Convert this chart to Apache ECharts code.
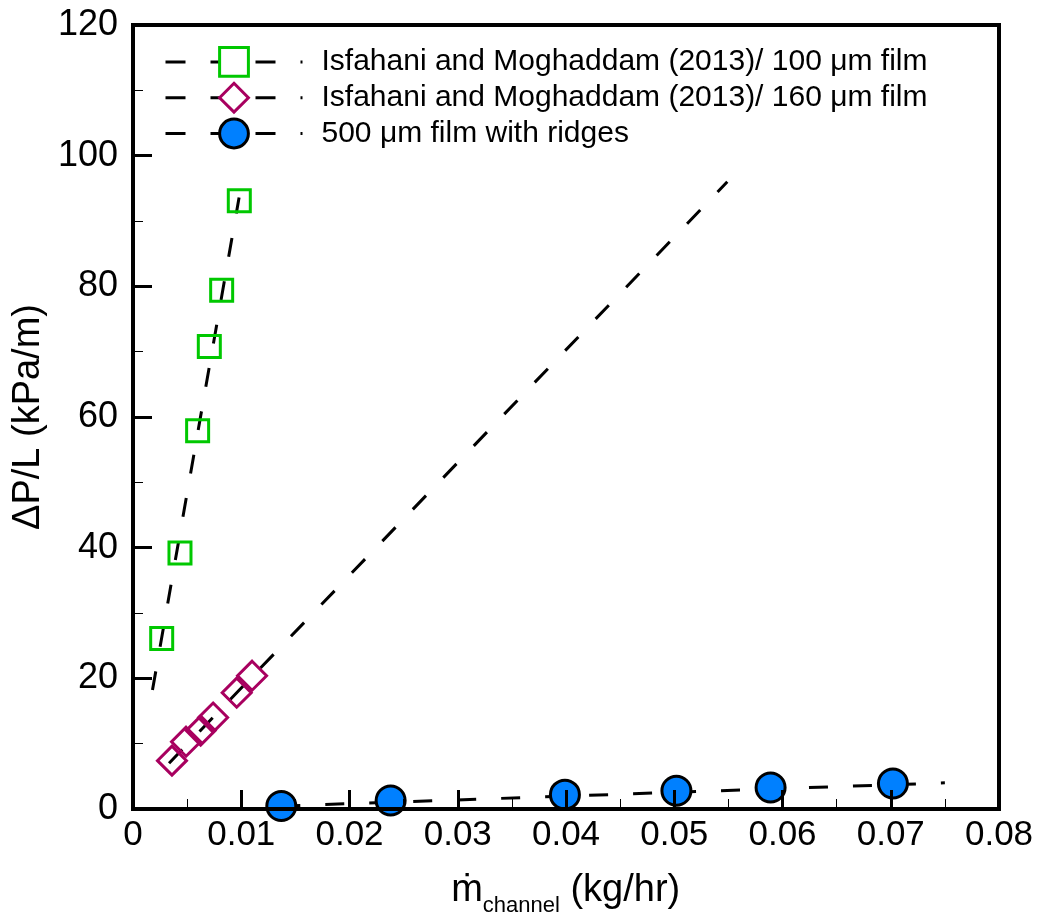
<!DOCTYPE html>
<html>
<head>
<meta charset="utf-8">
<script src="https://cdn.jsdelivr.net/npm/echarts@6/dist/echarts.min.js"></script>
<style>
html,body{margin:0;padding:0;background:#fff;}
#chart{width:1037px;height:916px;}
</style>
</head>
<body>
<div id="chart"></div>
<script>
// ---- data ----
const seriesNames = [
  'Isfahani and Moghaddam (2013)/ 100 \u03bcm film',
  'Isfahani and Moghaddam (2013)/ 160 \u03bcm film',
  '500 \u03bcm film with ridges'
];
const film100X = [0.00265, 0.00434, 0.00597, 0.00705, 0.00819, 0.00982];
const film100Y = [26.1, 39.2, 57.9, 70.8, 79.4, 93.1];
const film100FitX = [0.0018, 0.0098];
const film100FitY = [18.2, 93.6];

const film160X = [0.0036, 0.0049, 0.00625, 0.0074, 0.00958, 0.0110];
const film160Y = [7.4, 10.3, 12.0, 14.0, 17.8, 20.4];
const film160FitX = [0.00333, 0.0549];
const film160FitY = [7.0, 96.0];

const ridgesX = [0.0137, 0.0238, 0.0399, 0.0502, 0.0589, 0.0702];
const ridgesY = [0.45, 1.3, 2.2, 2.8, 3.3, 3.9];
const ridgesFitX = [0.0137, 0.0750];
const ridgesFitY = [0.45, 4.0];

const xMin = 0, xMax = 0.08, xStep = 0.01;
const yMin = 0, yMax = 120, yStep = 20;

// ---- helpers ----
const pairs = (xs, ys) => xs.map((x, i) => [x, ys[i]]);
const FONT = "'Liberation Sans', Arial, Helvetica, sans-serif";
const GREEN = '#00C800', PURPLE = '#A8005F', BLUE = '#0080FF';
const fitLine = (xs, ys) => ({
  type: 'line', data: pairs(xs, ys), symbol: 'none', silent: true,
  clip: false, z: 2,
  lineStyle: { color: '#000', width: 3, type: [19, 25] }
});

const chart = echarts.init(document.getElementById('chart'), null, { renderer: 'canvas' });
chart.setOption({
  animation: false,
  backgroundColor: '#fff',
  grid: {
    left: 133, right: 38, top: 25, bottom: 107,
    show: true, borderColor: '#000', borderWidth: 4, backgroundColor: 'transparent',
    containLabel: false, outerBoundsMode: 'none', z: 5
  },
  legend: {
    orient: 'vertical', left: 159, top: 41,
    itemWidth: 137, itemHeight: 36, itemGap: 4,
    selectedMode: false,
    lineStyle: { color: '#000', width: 3, type: [20, 25], opacity: 1 },
    formatter: name => '{t|' + name + '}',
    textStyle: {
      color: '#000', fontFamily: FONT, fontSize: 30,
      rich: { t: { fontFamily: FONT, fontSize: 30, lineHeight: 32, color: '#000', padding: [0, 0, 0, 14] } }
    },
    data: [
      { name: seriesNames[0], itemStyle: { color: '#fff', borderColor: GREEN, borderWidth: 3 } },
      { name: seriesNames[1], itemStyle: { color: '#fff', borderColor: PURPLE, borderWidth: 3 } },
      { name: seriesNames[2], itemStyle: { color: BLUE, borderColor: '#000', borderWidth: 3 } }
    ]
  },
  xAxis: {
    type: 'value', min: xMin, max: xMax, interval: xStep, z: 6,
    name: '{m|\u1e41}{s|channel}{m| (kg/hr)}{z| }',
    nameLocation: 'middle', nameGap: 63,
    nameTextStyle: {
      color: '#000', fontFamily: FONT,
      rich: {
        m: { fontFamily: FONT, fontSize: 38, lineHeight: 36, verticalAlign: 'top', color: '#000' },
        s: { fontFamily: FONT, fontSize: 22, lineHeight: 22, verticalAlign: 'bottom', color: '#000' },
        z: { fontSize: 2, lineHeight: 45 }
      }
    },
    axisLine: { show: true, lineStyle: { color: '#000', width: 4 } },
    axisTick: { show: true, inside: true, length: 19, lineStyle: { color: '#000', width: 3 } },
    minorTick: { show: true, splitNumber: 2, length: 10, lineStyle: { color: '#000', width: 1 } },
    splitLine: { show: false },
    axisLabel: {
      color: '#000', fontFamily: FONT, fontSize: 35, margin: 9,
      formatter: v => String(+v.toFixed(2))
    }
  },
  yAxis: {
    type: 'value', min: yMin, max: yMax, interval: yStep, z: 6,
    name: '\u0394P/L (kPa/m)', nameLocation: 'middle', nameRotate: 90, nameGap: 78,
    nameTextStyle: { color: '#000', fontFamily: FONT, fontSize: 38 },
    axisLine: { show: true, lineStyle: { color: '#000', width: 4 } },
    axisTick: { show: true, inside: true, length: 19, lineStyle: { color: '#000', width: 3 } },
    minorTick: { show: true, splitNumber: 2, length: 10, lineStyle: { color: '#000', width: 1 } },
    splitLine: { show: false },
    axisLabel: { color: '#000', fontFamily: FONT, fontSize: 36, margin: 15 }
  },
  series: [
    fitLine(film100FitX, film100FitY),
    fitLine(film160FitX, film160FitY),
    fitLine(ridgesFitX, ridgesFitY),
    {
      name: seriesNames[0], type: 'line', data: pairs(film100X, film100Y),
      symbol: 'rect', symbolSize: 22, showSymbol: true, clip: false, z: 3,
      lineStyle: { opacity: 0 },
      itemStyle: { color: 'rgba(0,0,0,0)', borderColor: GREEN, borderWidth: 3 }
    },
    {
      name: seriesNames[1], type: 'line', data: pairs(film160X, film160Y),
      symbol: 'diamond', symbolSize: 29, showSymbol: true, clip: false, z: 3,
      lineStyle: { opacity: 0 },
      itemStyle: { color: 'rgba(0,0,0,0)', borderColor: PURPLE, borderWidth: 3 }
    },
    {
      name: seriesNames[2], type: 'line', data: pairs(ridgesX, ridgesY),
      symbol: 'circle', symbolSize: 29, showSymbol: true, clip: false, z: 3,
      lineStyle: { opacity: 0 },
      itemStyle: { color: BLUE, borderColor: '#000', borderWidth: 3 }
    }
  ]
});
</script>
</body>
</html>
